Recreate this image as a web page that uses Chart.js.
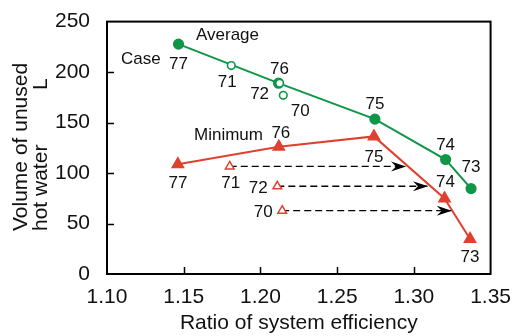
<!DOCTYPE html>
<html>
<head>
<meta charset="utf-8">
<script src="https://cdn.jsdelivr.net/npm/chart.js@4/dist/chart.umd.min.js"></script>
<style>
  html, body { margin: 0; padding: 0; background: #fff; }
  #wrap { width: 514px; height: 336px; }
</style>
</head>
<body>
<div id="wrap"><canvas id="chart"></canvas></div>
<script>
// data
const avgCases = ['77', '76', '75', '74', '73'];
const avgX = [1.1466, 1.2118, 1.2746, 1.3207, 1.3373];
const avgY = [227.7, 189.0, 153.4, 113.4, 84.6];

const avgOpenCases = ['71', '72', '70'];
const avgOpenX = [1.1810, 1.2125, 1.2149];
const avgOpenY = [206.4, 189.0, 177.0];

const minCases = ['77', '76', '75', '74', '73'];
const minX = [1.1462, 1.2120, 1.2740, 1.3200, 1.3366];
const minY = [108.8, 126.0, 136.3, 74.9, 34.6];

const minOpenCases = ['71', '72', '70'];
const minOpenX = [1.1800, 1.2110, 1.2142];
const minOpenY = [106.6, 86.9, 62.7];

// where the dashed arrows from the open triangles end
const arrowEndX = [1.2949, 1.3092, 1.3247];

const xTicks = [1.10, 1.15, 1.20, 1.25, 1.30, 1.35];
const yTicks = [0, 50, 100, 150, 200, 250];

const GREEN = '#0f9647';
const RED = '#e0402f';
const FONT = '"Liberation Sans", Arial, sans-serif';

function pts(xs, ys) {
    return xs.map(function(x, i) { return { x: x, y: ys[i] }; });
}

// label offsets (px) for the case numbers
const avgLabelOff = [[0, 20], [1, -14], [0, -15], [0, -14], [0, -21]];
const avgOpenLabelOff = [[-4, 17], [-20, 11], [17, 16]];
const minLabelOff = [[0, 19], [2, -13], [0, 21], [1, -16], [0, 18]];
const minOpenLabelOff = [[1, 17], [-19, 2], [-19, 2]];

const datasets = [
    {
        data: pts(avgX, avgY), borderColor: GREEN, backgroundColor: GREEN,
        borderWidth: 2, pointRadius: 4.6, pointStyle: 'circle', order: 2
    },
    {
        data: pts(avgOpenX, avgOpenY), showLine: false, borderColor: GREEN,
        backgroundColor: '#fff', borderWidth: 1.6, pointRadius: 3.8, order: 1
    },
    {
        data: pts(minX, minY), borderColor: RED, backgroundColor: RED,
        borderWidth: 2, pointRadius: 6, pointStyle: 'triangle', order: 2
    },
    {
        data: pts(minOpenX, minOpenY), showLine: false, borderColor: RED,
        backgroundColor: '#fff', borderWidth: 1.5, pointRadius: 5, pointStyle: 'triangle', order: 1
    }
];
arrowEndX.forEach(function(ex, i) {
    datasets.push({
        data: [{ x: minOpenX[i], y: minOpenY[i] }, { x: ex, y: minOpenY[i] }],
        borderColor: '#000', borderWidth: 1.3, borderDash: [7, 4],
        pointRadius: 0, order: 10, isArrow: true
    });
});

const decor = {
    id: 'decor',
    afterDatasetsDraw: function(chart) {
        const ctx = chart.ctx;
        const a = chart.chartArea;
        const xs = chart.scales.x, ys = chart.scales.y;
        ctx.save();

        // arrow heads
        chart.data.datasets.forEach(function(ds, i) {
            if (!ds.isArrow) return;
            const p = chart.getDatasetMeta(i).data[1];
            ctx.fillStyle = '#000';
            ctx.beginPath();
            ctx.moveTo(p.x, p.y);
            ctx.lineTo(p.x - 15, p.y - 5);
            ctx.lineTo(p.x - 10, p.y);
            ctx.lineTo(p.x - 15, p.y + 5);
            ctx.closePath();
            ctx.fill();
        });

        // frame and inward ticks
        ctx.strokeStyle = '#000';
        ctx.lineWidth = 2;
        ctx.strokeRect(a.left, a.top, a.right - a.left, a.bottom - a.top);
        ctx.lineWidth = 1.5;
        ctx.beginPath();
        xTicks.slice(1, -1).forEach(function(t) {
            const px = Math.round(xs.getPixelForValue(t)) + 0.5;
            ctx.moveTo(px, a.bottom);
            ctx.lineTo(px, a.bottom - 7);
        });
        yTicks.slice(1, -1).forEach(function(t) {
            const py = Math.round(ys.getPixelForValue(t)) + 0.5;
            ctx.moveTo(a.left, py);
            ctx.lineTo(a.left + 7, py);
        });
        ctx.stroke();

        // case labels
        ctx.fillStyle = '#111';
        ctx.font = '17px ' + FONT;
        ctx.textAlign = 'center';
        ctx.textBaseline = 'middle';
        function labels(cases, xv, yv, off) {
            cases.forEach(function(c, i) {
                const px = xs.getPixelForValue(xv[i]) + off[i][0];
                const py = ys.getPixelForValue(yv[i]) + off[i][1];
                ctx.fillText(c, px, py);
            });
        }
        labels(avgCases, avgX, avgY, avgLabelOff);
        labels(avgOpenCases, avgOpenX, avgOpenY, avgOpenLabelOff);
        labels(minCases, minX, minY, minLabelOff);
        labels(minOpenCases, minOpenX, minOpenY, minOpenLabelOff);
        ctx.textAlign = 'left';
        ctx.fillText('Average', 196, 35);
        ctx.fillText('Case', 121, 59);
        ctx.fillText('Minimum', 194, 135);

        // axis titles
        ctx.font = '21px ' + FONT;
        ctx.textAlign = 'center';
        ctx.textBaseline = 'alphabetic';
        ctx.fillText('Ratio of system efficiency', (a.left + a.right) / 2, 329);
        ctx.translate(0, 231);
        ctx.rotate(-Math.PI / 2);
        ctx.textAlign = 'left';
        ctx.fillText('Volume of unused', 0, 27);
        ctx.fillText('hot water', 0, 47);
        ctx.fillText('L', 141, 47);
        ctx.restore();
    }
};

new Chart(document.getElementById('chart'), {
    type: 'line',
    data: { datasets: datasets },
    options: {
        responsive: true,
        maintainAspectRatio: false,
        animation: false,
        layout: { padding: { left: 0, top: 16, right: 21, bottom: 0 } },
        plugins: { legend: { display: false }, tooltip: { enabled: false } },
        scales: {
            x: {
                type: 'linear', min: 1.10, max: 1.35,
                afterBuildTicks: function(s) { s.ticks = xTicks.map(function(v) { return { value: v }; }); },
                afterFit: function(s) { s.height = 62; },
                grid: { display: false },
                border: { display: false },
                ticks: {
                    color: '#111', padding: 3,
                    font: { family: FONT, size: 21 },
                    callback: function(v) { return v.toFixed(2); }
                }
            },
            y: {
                min: 0, max: 250,
                afterBuildTicks: function(s) { s.ticks = yTicks.map(function(v) { return { value: v }; }); },
                afterFit: function(s) { s.width = 107; },
                grid: { display: false },
                border: { display: false },
                ticks: {
                    color: '#111', padding: 9,
                    font: { family: FONT, size: 21 }
                }
            }
        }
    },
    plugins: [decor]
});
</script>
</body>
</html>
